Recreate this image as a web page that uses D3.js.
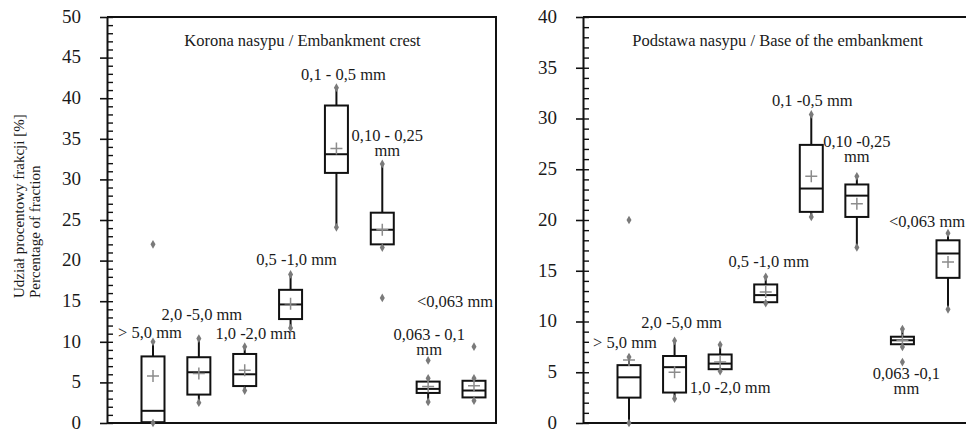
<!DOCTYPE html>
<html><head><meta charset="utf-8">
<script src="https://cdn.jsdelivr.net/npm/d3@7"></script>
<style>body{margin:0;background:#fff}svg{display:block}svg text{font-family:"Liberation Serif","Times New Roman",Tinos,"DejaVu Serif","Noto Serif",FreeSerif,Times,serif}</style>
</head><body><svg id="c" width="966" height="431"></svg>
<script>
// Fractions (categories)
const categories = [">5,0", "2,0-5,0", "1,0-2,0", "0,5-1,0", "0,1-0,5", "0,10-0,25", "0,063-0,1", "<0,063"];

// Korona nasypu / Embankment crest
const crestMin  = [0.0, 2.5, 4.0, 11.7, 24.1, 21.6, 2.6, 2.75];
const crestQ1   = [0.1, 3.5, 4.55, 12.8, 30.8, 22.0, 3.7, 3.15];
const crestMed  = [1.5, 6.25, 6.0, 14.6, 33.1, 23.8, 4.2, 4.0];
const crestQ3   = [8.2, 8.1, 8.5, 16.4, 39.1, 25.9, 5.1, 5.2];
const crestMax  = [10.0, 10.4, 9.4, 18.3, 41.3, 31.9, 5.5, 5.5];
const crestMean = [5.8, 6.1, 6.5, 14.7, 33.8, 23.8, 4.5, 4.6];
const crestOutliers = [[22.0], [], [], [], [], [15.4], [7.7], [9.4]];

// Podstawa nasypu / Base of the embankment
const baseMin  = [0.0, 2.4, 5.1, 11.8, 20.3, 17.3, 7.5, 11.2];
const baseQ1   = [2.5, 3.0, 5.3, 11.9, 20.8, 20.3, 7.76, 14.3];
const baseMed  = [4.5, 5.5, 5.85, 12.6, 23.1, 22.4, 8.15, 16.7];
const baseQ3   = [5.7, 6.6, 6.75, 13.65, 27.4, 23.5, 8.5, 18.0];
const baseMax  = [6.5, 8.1, 7.7, 14.4, 30.4, 24.3, 9.25, 18.7];
const baseMean = [6.2, 5.0, 6.0, 12.9, 24.3, 21.6, 8.15, 15.85];
const baseOutliers = [[20.0], [], [], [], [], [], [6.0], []];

// Tick labels
const crestTicks = [0, 5, 10, 15, 20, 25, 30, 35, 40, 45, 50];
const baseTicks  = [0, 5, 10, 15, 20, 25, 30, 35, 40];

// Category annotation texts
const crestLabels = [["> 5,0 mm"], ["2,0 -5,0 mm"], ["1,0 -2,0 mm"], ["0,5 -1,0 mm"], ["0,1 - 0,5 mm"], ["0,10 - 0,25", "mm"], ["0,063  - 0,1", "mm"], ["<0,063 mm"]];
const baseLabels  = [["> 5,0 mm"], ["2,0 -5,0 mm"], ["1,0 -2,0 mm"], ["0,5 -1,0 mm"], ["0,1 -0,5 mm"], ["0,10 -0,25", "mm"], ["0,063  -0,1", "mm"], ["<0,063 mm"]];
// annotation anchor (value units on y) and horizontal shift
const crestLabelAt = [10.5, 12.7, 10.3, 19.5, 42.3, 34.7, 10.2, 14.3];
const crestLabelDx = [-3, 3, 11, 6, 7, 5, 1, -19];
const baseLabelAt  = [7.4, 9.35, 3.0, 15.35, 31.2, 27.2, 4.3, 19.3];
const baseLabelDx  = [-4, 7, 10, 3, 1, 0, 4, -21];

const titles = ["Korona nasypu / Embankment crest", "Podstawa nasypu / Base of the embankment"];
const yTitle = ["Udział procentowy frakcji [%]", "Percentage of fraction"];

const FONT = '"Liberation Serif","Times New Roman",Tinos,"DejaVu Serif","Noto Serif",FreeSerif,Times,serif';
const svg = d3.select("#c").attr("font-family", FONT);
const TOP = 17, BOTTOM = 423;

const panels = [
  {x0: 107, x1: 496, ticks: crestTicks, min: crestMin, q1: crestQ1, med: crestMed, q3: crestQ3, max: crestMax, mean: crestMean, out: crestOutliers, labels: crestLabels, lAt: crestLabelAt, lDx: crestLabelDx, title: titles[0]},
  {x0: 583, x1: 970, ticks: baseTicks, min: baseMin, q1: baseQ1, med: baseMed, q3: baseQ3, max: baseMax, mean: baseMean, out: baseOutliers, labels: baseLabels, lAt: baseLabelAt, lDx: baseLabelDx, title: titles[1]}
];

const dotPath = d3.symbol(d3.symbolDiamond, 22)();

panels.forEach(p => {
  const y = d3.scaleLinear().domain([0, d3.max(p.ticks)]).range([BOTTOM, TOP]);
  const x = d3.scalePoint().domain(categories).range([p.x0 + 46, p.x1 - 22]);
  const g = svg.append("g");

  // frame (top, right, bottom)
  g.append("path")
    .attr("d", `M${p.x0},${TOP}H${p.x1}V${BOTTOM}H${p.x0}`)
    .attr("fill", "none").attr("stroke", "#111").attr("stroke-width", 2);

  // left axis with labels (major ticks crossing the axis)
  const ax = g.append("g").attr("transform", `translate(${p.x0},0)`)
    .call(d3.axisLeft(y).tickValues(p.ticks).tickSize(7).tickPadding(19).tickSizeOuter(0).tickFormat(d3.format("d")));
  ax.attr("font-family", FONT);
  ax.select(".domain").attr("stroke", "#111").attr("stroke-width", 2);
  ax.selectAll(".tick line").attr("stroke", "#111").attr("stroke-width", 1.6);
  ax.selectAll(".tick text").attr("font-size", 19).attr("fill", "#1a1a1a").attr("dy", "0.28em")
    .attr("font-family", FONT);

  // inner ticks: minor every 1 unit
  const ax2 = g.append("g").attr("transform", `translate(${p.x0},0)`)
    .call(d3.axisRight(y).tickValues(d3.range(0, d3.max(p.ticks) + 0.5, 1)).tickSize(6).tickFormat(""));
  ax2.select(".domain").remove();
  ax2.selectAll(".tick line").attr("stroke", "#111").attr("stroke-width", 1.4);

  // title
  g.append("text").attr("x", (p.x0 + p.x1) / 2 + 1).attr("y", 46).attr("font-family", FONT)
    .attr("text-anchor", "middle").attr("font-size", 16.5).attr("fill", "#1a1a1a").text(p.title);

  // boxes
  categories.forEach((c, i) => {
    const cx = x(c), w = 23;
    const bg = g.append("g");
    bg.append("line").attr("x1", cx).attr("x2", cx).attr("y1", y(p.max[i])).attr("y2", y(p.q3[i]))
      .attr("stroke", "#111").attr("stroke-width", 2);
    bg.append("line").attr("x1", cx).attr("x2", cx).attr("y1", y(p.q1[i])).attr("y2", y(p.min[i]))
      .attr("stroke", "#111").attr("stroke-width", 2);
    bg.append("rect").attr("x", cx - w / 2).attr("width", w)
      .attr("y", y(p.q3[i])).attr("height", y(p.q1[i]) - y(p.q3[i]))
      .attr("fill", "#fff").attr("stroke", "#111").attr("stroke-width", 2);
    bg.append("line").attr("x1", cx - w / 2).attr("x2", cx + w / 2).attr("y1", y(p.med[i])).attr("y2", y(p.med[i]))
      .attr("stroke", "#111").attr("stroke-width", 2);
    // mean
    const my = y(p.mean[i]);
    bg.append("path").attr("d", `M${cx - 6},${my}H${cx + 6}M${cx},${my - 6}V${my + 6}`)
      .attr("stroke", "#8c8c8c").attr("stroke-width", 1.5).attr("fill", "none");
    // min/max and outlier dots
    [p.min[i], p.max[i], ...p.out[i]].forEach(v => {
      bg.append("path").attr("d", dotPath).attr("transform", `translate(${cx},${y(v)})`).attr("fill", "#7a7a7a");
    });
    // annotation
    const t = bg.append("text").attr("text-anchor", "middle").attr("font-size", 16.5)
      .attr("font-family", FONT).attr("fill", "#1a1a1a");
    p.labels[i].forEach((s, k) => {
      t.append("tspan").attr("x", cx + p.lDx[i]).attr("y", y(p.lAt[i]) + k * 15).text(s);
    });
  });
});

// y-axis title (two lines, rotated)
yTitle.forEach((s, k) => {
  svg.append("text").attr("transform", `translate(${24 + k * 16},298) rotate(-90)`).attr("font-family", FONT)
    .attr("font-size", 15).attr("fill", "#1a1a1a").attr("text-anchor", "start").text(s);
});
</script></body></html>
